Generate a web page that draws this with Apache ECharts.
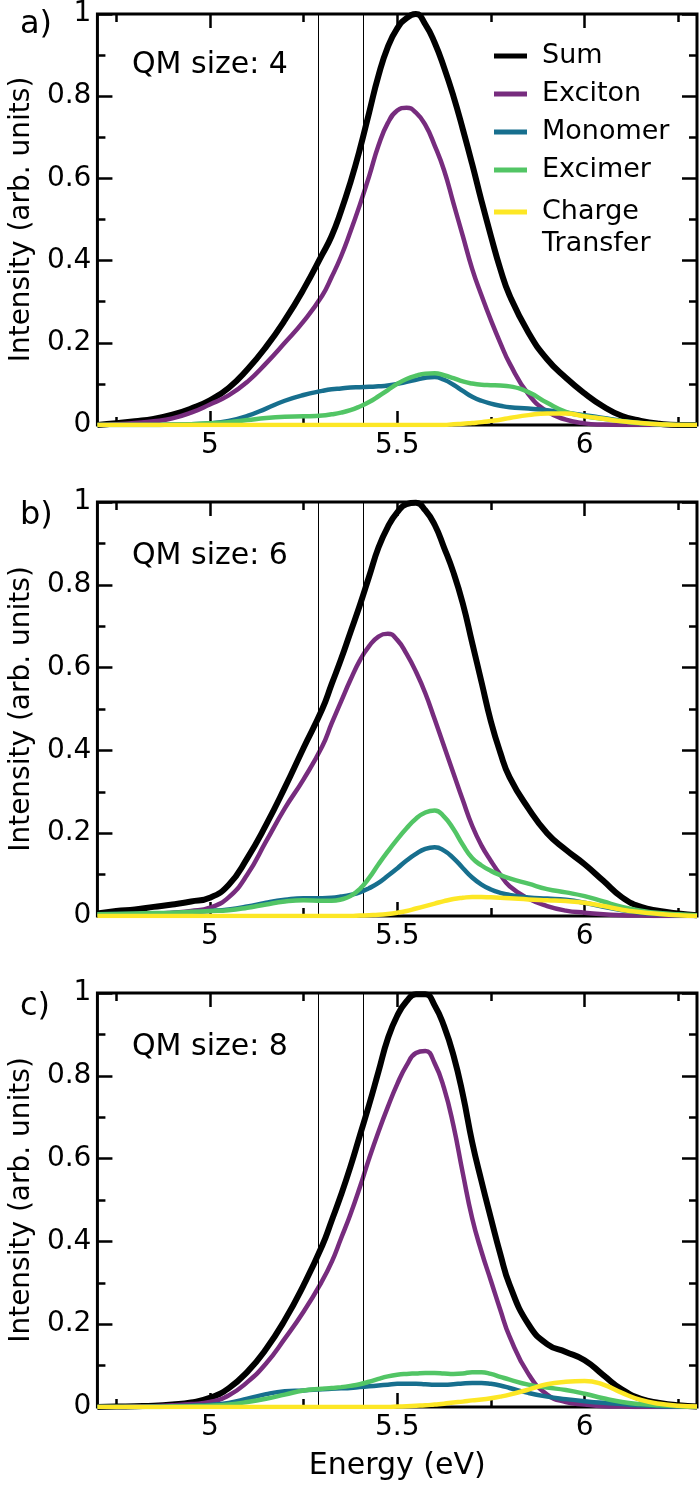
<!DOCTYPE html>
<html>
<head>
<meta charset="utf-8">
<script src="https://cdn.jsdelivr.net/npm/echarts@6/dist/echarts.min.js"></script>
<style>
  html, body { margin: 0; padding: 0; background: #fff; }
  #chart { width: 700px; height: 1485px; }
</style>
</head>
<body>
<div id="chart"></div>
<script>
"use strict";

// energy grid (eV), finer around the peaks
var energy = [4.70, 4.75, 4.80, 4.85, 4.90, 4.95, 5.00, 5.05, 5.10, 5.15, 5.20, 5.25, 5.30,
    5.325, 5.35, 5.375, 5.40, 5.425, 5.45, 5.475, 5.50, 5.525, 5.55, 5.575, 5.60,
    5.625, 5.65, 5.675, 5.70, 5.725, 5.75, 5.775,
    5.80, 5.85, 5.90, 5.95, 6.00, 6.05, 6.10, 6.15, 6.20, 6.25, 6.30];

// a) QM size 4
var sumA = [0, 0.004, 0.009, 0.015, 0.025, 0.040, 0.060, 0.090, 0.135, 0.190, 0.255, 0.330, 0.415,
    0.460, 0.520, 0.590, 0.670, 0.760, 0.850, 0.920, 0.965, 0.990, 1.000, 0.975, 0.930,
    0.870, 0.800, 0.720, 0.635, 0.545, 0.460, 0.380,
    0.315, 0.225, 0.160, 0.115, 0.077, 0.045, 0.022, 0.010, 0.003, 0, 0];
var excitonA = [0, 0.002, 0.005, 0.009, 0.016, 0.030, 0.050, 0.072, 0.105, 0.150, 0.200, 0.252, 0.315,
    0.360, 0.410, 0.470, 0.535, 0.605, 0.680, 0.735, 0.765, 0.772, 0.760, 0.730, 0.680,
    0.620, 0.540, 0.460, 0.380, 0.315, 0.255, 0.200,
    0.150, 0.075, 0.033, 0.013, 0.004, 0.001, 0, 0, 0, 0, 0];
var monomerA = [0, 0, 0, 0, 0.001, 0.002, 0.004, 0.010, 0.022, 0.040, 0.059, 0.073, 0.083,
    0.087, 0.089, 0.091, 0.092, 0.093, 0.094, 0.096, 0.100, 0.105, 0.110, 0.115, 0.117,
    0.110, 0.098, 0.083, 0.069, 0.059, 0.052, 0.047,
    0.043, 0.040, 0.036, 0.030, 0.024, 0.017, 0.010, 0.005, 0.002, 0, 0];
var excimerA = [0, 0, 0, 0, 0.001, 0.002, 0.004, 0.007, 0.012, 0.017, 0.020, 0.021, 0.023,
    0.026, 0.030, 0.036, 0.045, 0.056, 0.070, 0.085, 0.100, 0.112, 0.120, 0.125, 0.126,
    0.121, 0.114, 0.106, 0.101, 0.098, 0.097, 0.096,
    0.094, 0.080, 0.054, 0.032, 0.022, 0.015, 0.009, 0.004, 0.002, 0, 0];
var chargeA = [0, 0, 0, 0, 0, 0, 0, 0, 0, 0, 0, 0, 0,
    0, 0, 0, 0, 0, 0, 0, 0, 0, 0, 0, 0,
    0, 0.002, 0.003, 0.005, 0.007, 0.010, 0.013,
    0.017, 0.024, 0.028, 0.028, 0.021, 0.015, 0.009, 0.005, 0.002, 0, 0];

// b) QM size 6
var sumB = [0.006, 0.012, 0.016, 0.022, 0.028, 0.035, 0.044, 0.075, 0.140, 0.220, 0.310, 0.406, 0.500,
    0.560, 0.620, 0.685, 0.750, 0.820, 0.890, 0.940, 0.975, 0.995, 0.998, 0.980, 0.945,
    0.890, 0.830, 0.755, 0.660, 0.565, 0.470, 0.395,
    0.335, 0.260, 0.200, 0.160, 0.125, 0.085, 0.045, 0.022, 0.012, 0.006, 0.002];
var excitonB = [0.002, 0.003, 0.004, 0.005, 0.008, 0.012, 0.020, 0.045, 0.100, 0.180, 0.260, 0.330, 0.410,
    0.465, 0.518, 0.570, 0.617, 0.652, 0.675, 0.682, 0.667, 0.633, 0.590, 0.538, 0.475,
    0.410, 0.345, 0.280, 0.218, 0.170, 0.133, 0.100,
    0.072, 0.042, 0.024, 0.013, 0.008, 0.004, 0.002, 0.001, 0, 0, 0];
var monomerB = [0.004, 0.005, 0.005, 0.006, 0.007, 0.009, 0.012, 0.016, 0.023, 0.032, 0.039, 0.043, 0.043,
    0.044, 0.047, 0.051, 0.057, 0.067, 0.080, 0.097, 0.115, 0.134, 0.150, 0.162, 0.166,
    0.158, 0.140, 0.116, 0.093, 0.076, 0.064, 0.056,
    0.051, 0.045, 0.042, 0.039, 0.032, 0.022, 0.014, 0.008, 0.004, 0.002, 0];
var excimerB = [0.004, 0.005, 0.006, 0.007, 0.008, 0.010, 0.012, 0.014, 0.020, 0.028, 0.035, 0.038, 0.037,
    0.037, 0.040, 0.048, 0.065, 0.092, 0.125, 0.156, 0.185, 0.212, 0.235, 0.250, 0.255,
    0.240, 0.210, 0.172, 0.140, 0.122, 0.109, 0.099,
    0.091, 0.078, 0.065, 0.057, 0.048, 0.035, 0.022, 0.013, 0.007, 0.004, 0.002];
var chargeB = [0, 0, 0, 0, 0, 0, 0, 0, 0, 0, 0, 0, 0,
    0, 0, 0, 0.001, 0.002, 0.003, 0.005, 0.008, 0.012, 0.018, 0.024, 0.030,
    0.036, 0.041, 0.044, 0.046, 0.046, 0.045, 0.044,
    0.043, 0.040, 0.038, 0.036, 0.032, 0.024, 0.015, 0.009, 0.005, 0.002, 0];

// c) QM size 8
var sumC = [0, 0.001, 0.002, 0.003, 0.006, 0.011, 0.022, 0.045, 0.085, 0.140, 0.210, 0.294, 0.390,
    0.450, 0.512, 0.580, 0.655, 0.730, 0.810, 0.890, 0.945, 0.980, 0.997, 0.997, 0.970,
    0.920, 0.850, 0.755, 0.640, 0.545, 0.456, 0.370,
    0.295, 0.200, 0.152, 0.133, 0.113, 0.077, 0.042, 0.020, 0.010, 0.004, 0.001];
var excitonC = [0, 0, 0.001, 0.002, 0.004, 0.007, 0.012, 0.028, 0.060, 0.105, 0.165, 0.230, 0.305,
    0.350, 0.407, 0.465, 0.530, 0.600, 0.665, 0.725, 0.780, 0.825, 0.855, 0.860, 0.830,
    0.770, 0.680, 0.565, 0.456, 0.375, 0.305, 0.235,
    0.170, 0.080, 0.030, 0.012, 0.006, 0.002, 0.001, 0, 0, 0, 0];
var monomerC = [0, 0, 0, 0.001, 0.002, 0.003, 0.005, 0.010, 0.020, 0.031, 0.038, 0.040, 0.043,
    0.044, 0.045, 0.046, 0.048, 0.050, 0.052, 0.054, 0.056, 0.056, 0.056, 0.055, 0.054,
    0.054, 0.055, 0.057, 0.058, 0.058, 0.056, 0.052,
    0.046, 0.034, 0.025, 0.019, 0.014, 0.010, 0.007, 0.004, 0.002, 0.001, 0];
var excimerC = [0, 0, 0, 0, 0.001, 0.002, 0.003, 0.006, 0.012, 0.020, 0.030, 0.040, 0.044,
    0.046, 0.048, 0.051, 0.055, 0.061, 0.068, 0.074, 0.078, 0.080, 0.081, 0.082, 0.082,
    0.081, 0.080, 0.081, 0.084, 0.084, 0.080, 0.073,
    0.066, 0.054, 0.047, 0.041, 0.032, 0.021, 0.012, 0.007, 0.004, 0.002, 0];
var chargeC = [0, 0, 0, 0, 0, 0, 0, 0, 0, 0, 0, 0, 0,
    0, 0, 0, 0, 0, 0, 0, 0.001, 0.002, 0.003, 0.004, 0.006,
    0.008, 0.011, 0.013, 0.016, 0.018, 0.021, 0.025,
    0.030, 0.042, 0.055, 0.061, 0.063, 0.054, 0.034, 0.017, 0.008, 0.003, 0.001];

var seriesNames = ['Sum', 'Exciton', 'Monomer', 'Excimer', 'Charge Transfer'];
var panelLabels = ['a)', 'b)', 'c)'];
var qmSizes = [4, 6, 8];
var markerEnergies = [5.29, 5.41];
var xMajorTicks = [5, 5.5, 6];
var xMinorTicks = [4.75, 5.25, 5.75, 6.25];

var panels = [
    [sumA, excitonA, monomerA, excimerA, chargeA],
    [sumB, excitonB, monomerB, excimerB, chargeB],
    [sumC, excitonC, monomerC, excimerC, chargeC]
];

var colors = ['#000000', '#772c7e', '#176f8e', '#52c565', '#fde725'];
var widths = [6, 4.5, 4.5, 4.5, 4.5];
var FONT = 'DejaVu Sans';
var gridTops = [11, 502, 993];
var gridH = 414;

var grids = [], xAxes = [], yAxes = [], series = [], graphics = [];

function xAxis(gi, pos, ticks, len, labels, name) {
    return {
        type: 'value', gridIndex: gi, position: pos, min: 4.7, max: 6.3,
        axisLine: { show: false },
        splitLine: { show: false },
        axisTick: { show: true, inside: true, length: len, customValues: ticks,
            lineStyle: { color: '#000', width: 2.5 } },
        axisLabel: { show: labels, customValues: ticks, margin: 7, color: '#000',
            fontSize: 28, fontFamily: FONT },
        name: name || '', nameLocation: 'middle', nameGap: 44,
        nameTextStyle: { color: '#000', fontSize: 30, fontFamily: FONT }
    };
}

function yAxis(gi, pos, labels) {
    return {
        type: 'value', gridIndex: gi, position: pos, min: 0, max: 1, interval: 0.2,
        axisLine: { show: false },
        splitLine: { show: false },
        axisTick: { show: true, inside: true, length: 15, lineStyle: { color: '#000', width: 2.5 } },
        minorTick: { show: true, splitNumber: 2, length: 8, lineStyle: { color: '#000', width: 2.5 } },
        axisLabel: { show: labels, margin: 6, color: '#000', fontSize: 28, fontFamily: FONT },
        name: labels ? 'Intensity (arb. units)' : '', nameLocation: 'middle', nameGap: 61,
        nameTextStyle: { color: '#000', fontSize: 28, fontFamily: FONT }
    };
}

panels.forEach(function (vals, gi) {
    var top = gridTops[gi];
    grids.push({ left: 93, top: top, width: 604, height: gridH, show: true,
        borderColor: '#000', borderWidth: 3, backgroundColor: 'transparent' });

    var xi = xAxes.length;
    xAxes.push(xAxis(gi, 'bottom', xMajorTicks, 14, true, gi === 2 ? 'Energy (eV)' : ''));
    xAxes.push(xAxis(gi, 'bottom', xMinorTicks, 8, false));
    xAxes.push(xAxis(gi, 'top', xMajorTicks, 14, false));
    xAxes.push(xAxis(gi, 'top', xMinorTicks, 8, false));

    var yi = yAxes.length;
    yAxes.push(yAxis(gi, 'left', true));
    yAxes.push(yAxis(gi, 'right', false));

    vals.forEach(function (arr, si) {
        var s = {
            name: seriesNames[si], type: 'line', xAxisIndex: xi, yAxisIndex: yi,
            data: energy.map(function (e, k) { return [e, arr[k]]; }),
            showSymbol: false, smooth: 0.5,
            lineStyle: { color: colors[si], width: widths[si] },
            itemStyle: { color: colors[si] },
            z: 3 + si
        };
        if (si === 0) {
            s.markLine = {
                silent: true, symbol: 'none', animation: false,
                label: { show: false },
                lineStyle: { color: '#000', width: 1, type: 'solid' },
                data: markerEnergies.map(function (e) { return { xAxis: e }; })
            };
        }
        series.push(s);
    });

    graphics.push({ type: 'text', left: 20, top: top - 2,
        style: { text: panelLabels[gi], fill: '#000', fontSize: 32, fontFamily: FONT } });
    graphics.push({ type: 'text', left: 132, top: top + 39,
        style: { text: 'QM size: ' + qmSizes[gi], fill: '#000', fontSize: 30, fontFamily: FONT } });
});

var option = {
    animation: false,
    backgroundColor: '#fff',
    grid: grids,
    xAxis: xAxes,
    yAxis: yAxes,
    series: series,
    graphic: graphics,
    legend: [{
        data: seriesNames.slice(0, 4),
        orient: 'vertical', left: 494, top: 37, padding: 0, itemGap: 0,
        itemWidth: 33, itemHeight: 5, icon: 'rect',
        textStyle: { color: '#000', fontSize: 27, fontFamily: FONT, lineHeight: 38, padding: [0, 0, 0, 10] }
    }, {
        data: ['Charge Transfer'],
        orient: 'vertical', left: 494, top: 164, padding: 0, itemGap: 0,
        itemWidth: 33, itemHeight: 5, icon: 'rect',
        formatter: function (name) { return ' \n' + name.replace(' ', '\n'); },
        textStyle: { color: '#000', fontSize: 27, fontFamily: FONT, lineHeight: 32, padding: [0, 0, 0, 10] }
    }]
};

var chart = echarts.init(document.getElementById('chart'), null, { renderer: 'canvas' });
chart.setOption(option);
</script>
</body>
</html>
